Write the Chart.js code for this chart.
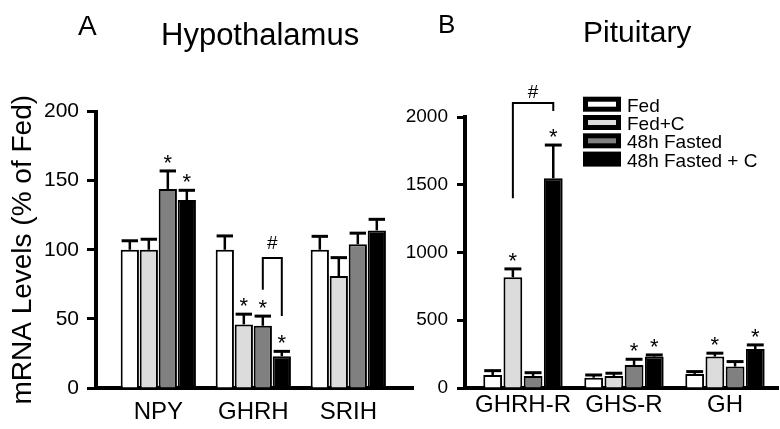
<!DOCTYPE html>
<html lang="en">
<head>
<meta charset="UTF-8">
<title>Hypothalamus / Pituitary mRNA</title>
<script src="https://cdn.jsdelivr.net/npm/chart.js"></script>
<style>
  body { margin: 0; background: #fff; }
  #wrap { position: relative; width: 780px; height: 429px; }
  canvas { position: absolute; top: 0; }
  #chartA { left: 0; }
  #chartB { left: 395px; }
</style>
</head>
<body>
<div id="wrap">
  <canvas id="chartA" width="420" height="429"></canvas>
  <canvas id="chartB" width="385" height="429"></canvas>
</div>
<script>
const FONT = '"Liberation Sans", Arial, sans-serif';

const groups = ['Fed', 'Fed+C', '48h Fasted', '48h Fasted + C'];
const colors = ['#ffffff', '#dcdcdc', '#808080', '#000000'];

// Panel A - hypothalamus, % of fed
const genesA = ['NPY', 'GHRH', 'SRIH'];
const fedA = [100, 100, 100];
const fedCA = [100, 46, 81];
const fastA = [144, 45, 104];
const fastCA = [136, 23, 114];
const errA = [[6.5, 10, 9.7], [7.6, 7.4, 13.3], [13, 7, 8], [7, 3.5, 8]];
const starsA = [[0, 0, 0], [0, 1, 0], [1, 1, 0], [1, 1, 0]];
const yTicksA = [0, 50, 100, 150, 200];

// Panel B - pituitary
const genesB = ['GHRH-R', 'GHS-R', 'GH'];
const fedB = [96, 76, 104];
const fedCB = [817, 89, 232];
const fastB = [89, 170, 158];
const fastCB = [1548, 232, 287];
const errB = [[32, 20, 17], [62, 20, 25], [24, 42, 37], [245, 12, 31]];
const starsB = [[0, 0, 0], [1, 0, 1], [0, 1, 0], [1, 1, 1]];
const yTicksB = [0, 500, 1000, 1500, 2000];

// significance brackets (#): category, from series, to series, top / leg ends in data units
const bracketA = { cat: 1, from: 2, to: 3, top: 94, left: 71, right: 52, gap: 9 };
const bracketB = { cat: 0, from: 1, to: 3, top: 2104, left: 1400, right: 2045, gap: 5 };

function makeDatasets(series, catPct, barPct) {
  return series.map((vals, i) => ({
    label: groups[i],
    data: vals.map((v, j) => ({ x: j, y: v })),
    backgroundColor: colors[i],
    borderColor: '#000',
    borderWidth: 2,
    categoryPercentage: catPct,
    barPercentage: barPct
  }));
}

const extras = {
  id: 'extras',
  afterDatasetsDraw(chart, args, opts) {
    const ctx = chart.ctx;
    const ys = chart.scales.y;
    ctx.save();
    ctx.strokeStyle = '#000';
    ctx.fillStyle = '#000';
    ctx.textAlign = 'center';
    ctx.textBaseline = 'alphabetic';
    chart.data.datasets.forEach((ds, i) => {
      const meta = chart.getDatasetMeta(i);
      meta.data.forEach((bar, j) => {
        const top = ys.getPixelForValue(ds.data[j].y + opts.err[i][j]);
        const half = bar.width * 0.45;
        ctx.lineWidth = 2.5;
        ctx.beginPath();
        ctx.moveTo(bar.x, bar.y);
        ctx.lineTo(bar.x, top);
        ctx.stroke();
        ctx.lineWidth = 3;
        ctx.beginPath();
        ctx.moveTo(bar.x - half, top);
        ctx.lineTo(bar.x + half, top);
        ctx.stroke();
        if (opts.stars[i][j]) {
          ctx.font = '22px ' + FONT;
          ctx.fillText('*', bar.x, top - 1);
        }
      });
    });

    const b = opts.bracket;
    const x1 = chart.getDatasetMeta(b.from).data[b.cat].x;
    const x2 = chart.getDatasetMeta(b.to).data[b.cat].x;
    const yt = ys.getPixelForValue(b.top);
    ctx.lineWidth = 2;
    ctx.beginPath();
    ctx.moveTo(x1, ys.getPixelForValue(b.left));
    ctx.lineTo(x1, yt);
    ctx.lineTo(x2, yt);
    ctx.lineTo(x2, ys.getPixelForValue(b.right));
    ctx.stroke();
    ctx.font = '19px ' + FONT;
    ctx.fillText('#', (x1 + x2) / 2, yt - b.gap);
    ctx.restore();
  },
  afterDraw(chart, args, opts) {
    const ctx = chart.ctx;
    ctx.save();
    ctx.fillStyle = '#000';
    ctx.textAlign = 'left';
    ctx.textBaseline = 'alphabetic';
    ctx.font = opts.letterSize + 'px ' + FONT;
    ctx.fillText(opts.letter, opts.letterX, opts.letterY);
    ctx.font = opts.titleSize + 'px ' + FONT;
    ctx.fillText(opts.title, opts.titleX, opts.titleY);

    if (opts.legend) {
      const lx = opts.legend.x, ly = opts.legend.y;
      ctx.font = '19px ' + FONT;
      chart.data.datasets.forEach((ds, i) => {
        const top = ly + i * 18.3;
        ctx.fillStyle = '#000';
        ctx.fillRect(lx, top, 38, 15);
        ctx.fillStyle = ds.backgroundColor;
        ctx.fillRect(lx + 5, top + 5, 28, 5);
        ctx.fillStyle = '#000';
        ctx.fillText(ds.label, lx + 44, top + 15);
      });
    }
    ctx.restore();
  }
};

function yScale(ticks, fontSize, tickLen, pad, width, title) {
  return {
    min: ticks[0],
    max: ticks[ticks.length - 1],
    afterBuildTicks: s => { s.ticks = ticks.map(v => ({ value: v })); },
    ticks: {
      padding: pad, color: '#000',
      font: { family: FONT, size: fontSize },
      callback: v => String(v)
    },
    grid: { display: true, drawOnChartArea: false, drawTicks: true, tickLength: tickLen, tickWidth: 3, tickColor: '#000' },
    border: { display: true, width: 4, color: '#000' },
    title: title ? {
      display: true, text: title, color: '#000',
      font: { family: FONT, size: 28 }, padding: { top: 6, bottom: 0 }
    } : { display: false },
    afterFit: s => { s.width = width; }
  };
}

function xScale(min, max, names, fontSize, pad) {
  return {
    type: 'linear',
    min: min,
    max: max,
    offset: false,
    grid: { display: false, drawTicks: false, offset: false },
    border: { display: true, width: 4, color: '#000' },
    ticks: {
      stepSize: 1, includeBounds: false, autoSkip: false, maxRotation: 0,
      padding: pad, color: '#000', font: { family: FONT, size: fontSize },
      callback: v => names[v] ?? ''
    },
    afterFit: s => { s.height = 41; }
  };
}

new Chart(document.getElementById('chartA'), {
  type: 'bar',
  data: { datasets: makeDatasets([fedA, fedCA, fastA, fastCA], 0.80, 0.96) },
  options: {
    responsive: false,
    animation: false,
    layout: { padding: { top: 111.5, right: 7, bottom: 0, left: 0 } },
    scales: {
      x: xScale(-0.656, 2.681, genesA, 24, 10),
      y: yScale(yTicksA, 21, 9, 8, 96, 'mRNA Levels (% of Fed)')
    },
    plugins: {
      legend: { display: false },
      tooltip: { enabled: false },
      extras: {
        err: errA, stars: starsA, bracket: bracketA,
        letter: 'A', letterSize: 28, letterX: 78, letterY: 35,
        title: 'Hypothalamus', titleSize: 31, titleX: 161, titleY: 45
      }
    }
  },
  plugins: [extras]
});

new Chart(document.getElementById('chartB'), {
  type: 'bar',
  data: { datasets: makeDatasets([fedB, fedCB, fastB, fastCB], 0.80, 0.93) },
  options: {
    responsive: false,
    animation: false,
    layout: { padding: { top: 117, right: 2, bottom: 0, left: 0 } },
    scales: {
      x: xScale(-0.574, 2.525, genesB, 24, 3),
      y: yScale(yTicksB, 19, 8, 9, 70, null)
    },
    plugins: {
      legend: { display: false },
      tooltip: { enabled: false },
      extras: {
        err: errB, stars: starsB, bracket: bracketB,
        letter: 'B', letterSize: 26, letterX: 43, letterY: 33,
        title: 'Pituitary', titleSize: 30, titleX: 188, titleY: 42,
        legend: { x: 188, y: 96.7 }
      }
    }
  },
  plugins: [extras]
});
</script>
</body>
</html>
